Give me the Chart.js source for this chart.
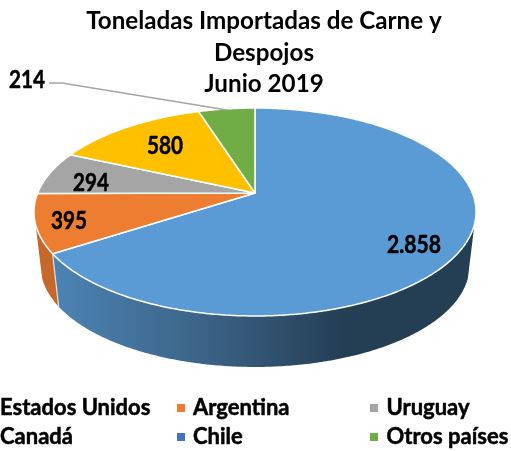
<!DOCTYPE html>
<html>
<head>
<meta charset="utf-8">
<style>html,body{margin:0;padding:0;background:#fff}canvas{display:block}</style>
<script src="https://cdn.jsdelivr.net/npm/chart.js@4"></script>
</head>
<body>
<canvas id="c" width="511" height="451"></canvas>
<script>
const categories = ['Estados Unidos','Argentina','Uruguay','Canadá','Chile','Otros países'];
const values = [2858,395,294,580,0,214];
const colors = ['#5b9bd5','#ed7d31','#a5a5a5','#ffc000','#4472c4','#70ad47'];
const titleLines = ['Toneladas Importadas de Carne y','Despojos','Junio 2019'];

const FONT = 'Lato, "Open Sans", sans-serif';
const labelAt = [[414,245],[69,221],[91,183],[165,146],null,[27,80]];
const legendCols = [[-16,0],[177,193],[370,386.5]];
const legendRows = [408,437];

// Perspective projection of the unit disc (library angles) onto the picture
const P = {cx:255, ay:193, k:217.3, p:100.5, c:0.1827, s:0.97, v:2016, edge:0.3};
function upperPt(a){
  const x=Math.cos(a), y=Math.sin(a), w=1-P.c*y;
  return [P.cx+P.k*x/w, P.ay+P.p*y/w];
}
function lowerPt(a){
  const q=upperPt(a);
  return [P.cx+(q[0]-P.cx)*P.s, P.v+(q[1]-P.v)*P.s];
}
function sweep(s,e,fn){
  const n=Math.max(1,Math.ceil((e-s)/0.01)), out=[];
  for(let i=0;i<=n;i++) out.push(fn(s+(e-s)*i/n));
  return out;
}
const fmt = v => String(v).replace(/\B(?=(\d{3})+$)/g,'.');
const textW = t => t.replace(/\D/g,'').length*12 + (t.includes('.')?6:0);

const pie3d = {
  id:'pie3d',
  beforeDatasetsDraw(chart){
    const ctx=chart.ctx, arcs=chart.getDatasetMeta(0).data;
    // walls: only the near side of the rim shows
    const blueGrad=ctx.createLinearGradient(55,0,345,0);
    blueGrad.addColorStop(0,'#4c83b3');
    blueGrad.addColorStop(0.5,'#3c6488');
    blueGrad.addColorStop(1,'#243e54');
    const wallFill=[blueGrad,'#c5682a'];
    arcs.forEach((el,i)=>{
      const s=Math.max(el.startAngle,P.edge), e=Math.min(el.endAngle,Math.PI-P.edge);
      if(e<=s) return;
      const u=sweep(s,e,upperPt), l=sweep(s,e,lowerPt).reverse();
      ctx.beginPath();
      u.concat(l).forEach((q,j)=>j?ctx.lineTo(q[0],q[1]):ctx.moveTo(q[0],q[1]));
      ctx.closePath();
      ctx.fillStyle=wallFill[i]||colors[i];
      ctx.fill();
    });
    const e0=arcs[0].endAngle, a=upperPt(e0), b=lowerPt(e0);
    ctx.beginPath();ctx.moveTo(a[0],a[1]);ctx.lineTo(b[0],b[1]);
    ctx.strokeStyle='#d9e2ea';ctx.lineWidth=1.2;ctx.stroke();
    // faces
    arcs.forEach((el,i)=>{
      if(el.endAngle-el.startAngle<=0) return;
      ctx.beginPath();
      ctx.moveTo(P.cx,P.ay);
      sweep(el.startAngle,el.endAngle,upperPt).forEach(q=>ctx.lineTo(q[0],q[1]));
      ctx.closePath();
      ctx.fillStyle=colors[i];
      ctx.fill();
      ctx.strokeStyle='#ffffff';ctx.lineWidth=1.5;ctx.lineJoin='round';ctx.stroke();
    });
    return false;
  },
  afterDraw(chart){
    const ctx=chart.ctx;
    ctx.save();
    // leader line
    ctx.beginPath();ctx.moveTo(49,83);ctx.lineTo(62,83);ctx.lineTo(227,110);
    ctx.strokeStyle='#a5a5a5';ctx.lineWidth=1.3;ctx.stroke();
    // value labels
    ctx.fillStyle='#000';ctx.strokeStyle='#000';ctx.lineWidth=0.5;ctx.lineJoin='round';
    ctx.textAlign='center';ctx.textBaseline='middle';
    ctx.font='bold 24px '+FONT;
    values.forEach((v,i)=>{
      if(!labelAt[i]) return;
      const t=fmt(v);
      ctx.fillText(t,labelAt[i][0],labelAt[i][1],textW(t));
      ctx.strokeText(t,labelAt[i][0],labelAt[i][1],textW(t));
    });
    // legend
    ctx.textAlign='left';ctx.font='bold 22px '+FONT;
    categories.forEach((name,i)=>{
      const col=legendCols[i%3], y=legendRows[Math.floor(i/3)];
      ctx.fillStyle=colors[i];
      ctx.fillRect(col[0],y-4,8,8);
      ctx.fillStyle='#000';
      ctx.fillText(name,col[1],y);
      ctx.strokeText(name,col[1],y);
    });
    ctx.restore();
  }
};

new Chart(document.getElementById('c'),{
  type:'pie',
  data:{labels:categories,datasets:[{data:values,backgroundColor:colors}]},
  options:{
    responsive:false,
    animation:false,
    layout:{padding:{left:17,top:6}},
    plugins:{
      legend:{display:false},
      tooltip:{enabled:false},
      title:{display:true,text:titleLines,color:'#000',
        font:{family:FONT,size:24.2,weight:'bold',lineHeight:1.29},padding:0}
    }
  },
  plugins:[pie3d]
});
</script>
</body>
</html>
